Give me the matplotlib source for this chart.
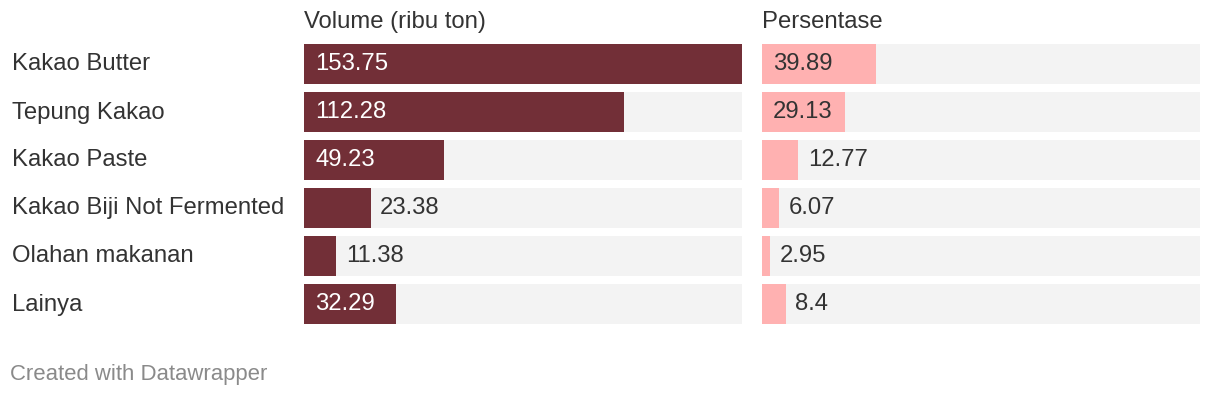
import matplotlib
matplotlib.use("Agg")
import matplotlib.pyplot as plt

categories = ["Kakao Butter", "Tepung Kakao", "Kakao Paste",
              "Kakao Biji Not Fermented", "Olahan makanan", "Lainya"]
volume = [153.75, 112.28, 49.23, 23.38, 11.38, 32.29]
volume_labels = ["153.75", "112.28", "49.23", "23.38", "11.38", "32.29"]
percent = [39.89, 29.13, 12.77, 6.07, 2.95, 8.4]
percent_labels = ["39.89", "29.13", "12.77", "6.07", "2.95", "8.4"]
headers = ["Volume (ribu ton)", "Persentase"]

plt.rcParams['font.family'] = ['Liberation Sans', 'DejaVu Sans']

W, H = 1220, 396
fig = plt.figure(figsize=(W / 100, H / 100), dpi=100)
fig.patch.set_facecolor("white")

DARK = "#722f37"
PINK = "#ffb1b1"
BG = "#f3f3f3"
TXT = "#333333"
FS = 17.2
scale_max = 153.75

top_px, row_px = 40, 48
n = len(categories)
bottom_px = top_px + row_px * n
base_off = 30.5  # baseline offset of text from row top (px)


def make_ax(x0, x1):
    ax = fig.add_axes([x0 / W, 1 - bottom_px / H, (x1 - x0) / W, (bottom_px - top_px) / H])
    ax.set_xlim(0, scale_max)
    ax.set_ylim(n - 0.5, -0.5)
    ax.axis("off")
    return ax


panels = [
    (304, 742, volume, volume_labels, DARK, "white", headers[0]),
    (762, 1200, percent, percent_labels, PINK, TXT, headers[1]),
]

for x0, x1, vals, labs, col, incol, head in panels:
    ax = make_ax(x0, x1)
    ys = list(range(n))
    ax.barh(ys, [scale_max] * n, height=40 / 48, color=BG, left=0)
    ax.barh(ys, vals, height=40 / 48, color=col)
    px_per_unit = (x1 - x0) / scale_max
    yoff = (base_off - row_px / 2) / row_px
    for y, v, lab in zip(ys, vals, labs):
        wpx = v * px_per_unit
        if wpx > 80:
            ax.text(11 / px_per_unit, y + yoff, lab, color=incol, fontsize=FS,
                    va="baseline", ha="left")
        else:
            ax.text(v + 9.5 / px_per_unit, y + yoff, lab, color=TXT, fontsize=FS,
                    va="baseline", ha="left")
    fig.text(x0 / W, 1 - 28 / H, head, color=TXT, fontsize=FS, va="baseline", ha="left")

for i, c in enumerate(categories):
    yb = top_px + row_px * i + base_off
    fig.text(12 / W, 1 - yb / H, c, color=TXT, fontsize=FS, va="baseline", ha="left")

fig.text(10 / W, 1 - 380 / H, "Created with Datawrapper", color="#8a8a8a",
         fontsize=15.9, va="baseline", ha="left")

fig.savefig("out.png", dpi=100, facecolor="white")
